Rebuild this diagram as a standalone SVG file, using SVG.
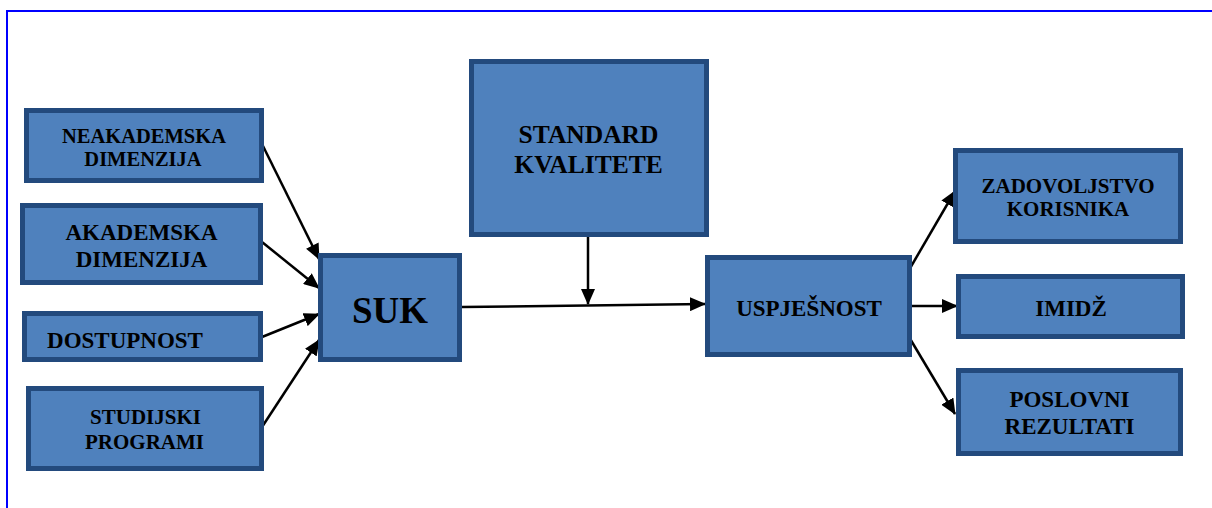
<svg xmlns="http://www.w3.org/2000/svg" width="1212" height="508" viewBox="0 0 1212 508">
<style>
.box{fill:#4F81BD;stroke:#234A7D;stroke-width:5}
.t{font-family:"Liberation Serif","Times New Roman",serif;font-weight:bold;fill:#000;text-anchor:middle}
.c{stroke:#000;stroke-width:2.5;fill:none;marker-end:url(#ah)}
</style>
<defs>
<marker id="ah" viewBox="0 0 16 14" refX="15" refY="7" markerUnits="strokeWidth" markerWidth="6.4" markerHeight="5.6" orient="auto">
<path d="M0,0 L16,7 L0,14 Z" fill="#000" stroke="none"/>
</marker>
</defs>
<rect width="1212" height="508" fill="#fff"/>
<path d="M7,508 V11 H1212" fill="none" stroke="#0000FF" stroke-width="2"/>
<g id="connectors">
<line class="c" x1="262" y1="144" x2="319" y2="259"/>
<line class="c" x1="262" y1="242" x2="319" y2="288"/>
<line class="c" x1="262" y1="337" x2="319" y2="314"/>
<line class="c" x1="262" y1="427" x2="319" y2="340"/>
<line class="c" x1="462" y1="307" x2="705" y2="304"/>
<line class="c" x1="588" y1="237" x2="588" y2="304"/>
<line class="c" x1="909" y1="270" x2="955" y2="191"/>
<line class="c" x1="909" y1="306" x2="957" y2="306"/>
<line class="c" x1="909" y1="337" x2="955" y2="414"/>
</g>
<g id="neakademska"><rect class="box" x="26.5" y="110.5" width="235" height="70"/>
<text class="t" font-size="20.5" x="144" y="143">NEAKADEMSKA</text><text class="t" font-size="20.5" x="143" y="166">DIMENZIJA</text></g>
<g id="akademska"><rect class="box" x="22.5" y="205.5" width="238" height="77"/>
<text class="t" font-size="23" x="141.5" y="240">AKADEMSKA</text><text class="t" font-size="23" x="141.5" y="267">DIMENZIJA</text></g>
<g id="dostupnost"><rect class="box" x="24.5" y="313.5" width="236" height="46"/>
<text class="t" font-size="23" x="125" y="348">DOSTUPNOST</text></g>
<g id="studijski"><rect class="box" x="28.5" y="388.5" width="233" height="80"/>
<text class="t" font-size="21" x="145.5" y="424">STUDIJSKI</text><text class="t" font-size="21" x="144.5" y="449">PROGRAMI</text></g>
<g id="suk"><rect class="box" x="320.5" y="255.5" width="139" height="104"/>
<text class="t" font-size="37" x="390" y="323">SUK</text></g>
<g id="standard"><rect class="box" x="471.5" y="61.5" width="235" height="173"/>
<text class="t" font-size="25.5" x="588.5" y="143">STANDARD</text><text class="t" font-size="25.5" x="588.5" y="173">KVALITETE</text></g>
<g id="uspjesnost"><rect class="box" x="707.5" y="257.5" width="202" height="97"/>
<text class="t" font-size="23" x="809" y="316">USPJEŠNOST</text></g>
<g id="zadovoljstvo"><rect class="box" x="955.5" y="150.5" width="225" height="91"/>
<text class="t" font-size="21" x="1068" y="193">ZADOVOLJSTVO</text><text class="t" font-size="21" x="1068" y="216">KORISNIKA</text></g>
<g id="imidz"><rect class="box" x="958.5" y="276.5" width="224" height="60"/>
<text class="t" font-size="23" x="1071" y="316">IMIDŽ</text></g>
<g id="poslovni"><rect class="box" x="958.5" y="370.5" width="222" height="83"/>
<text class="t" font-size="23" x="1069.5" y="407">POSLOVNI</text><text class="t" font-size="23" x="1069.5" y="434">REZULTATI</text></g>
</svg>
